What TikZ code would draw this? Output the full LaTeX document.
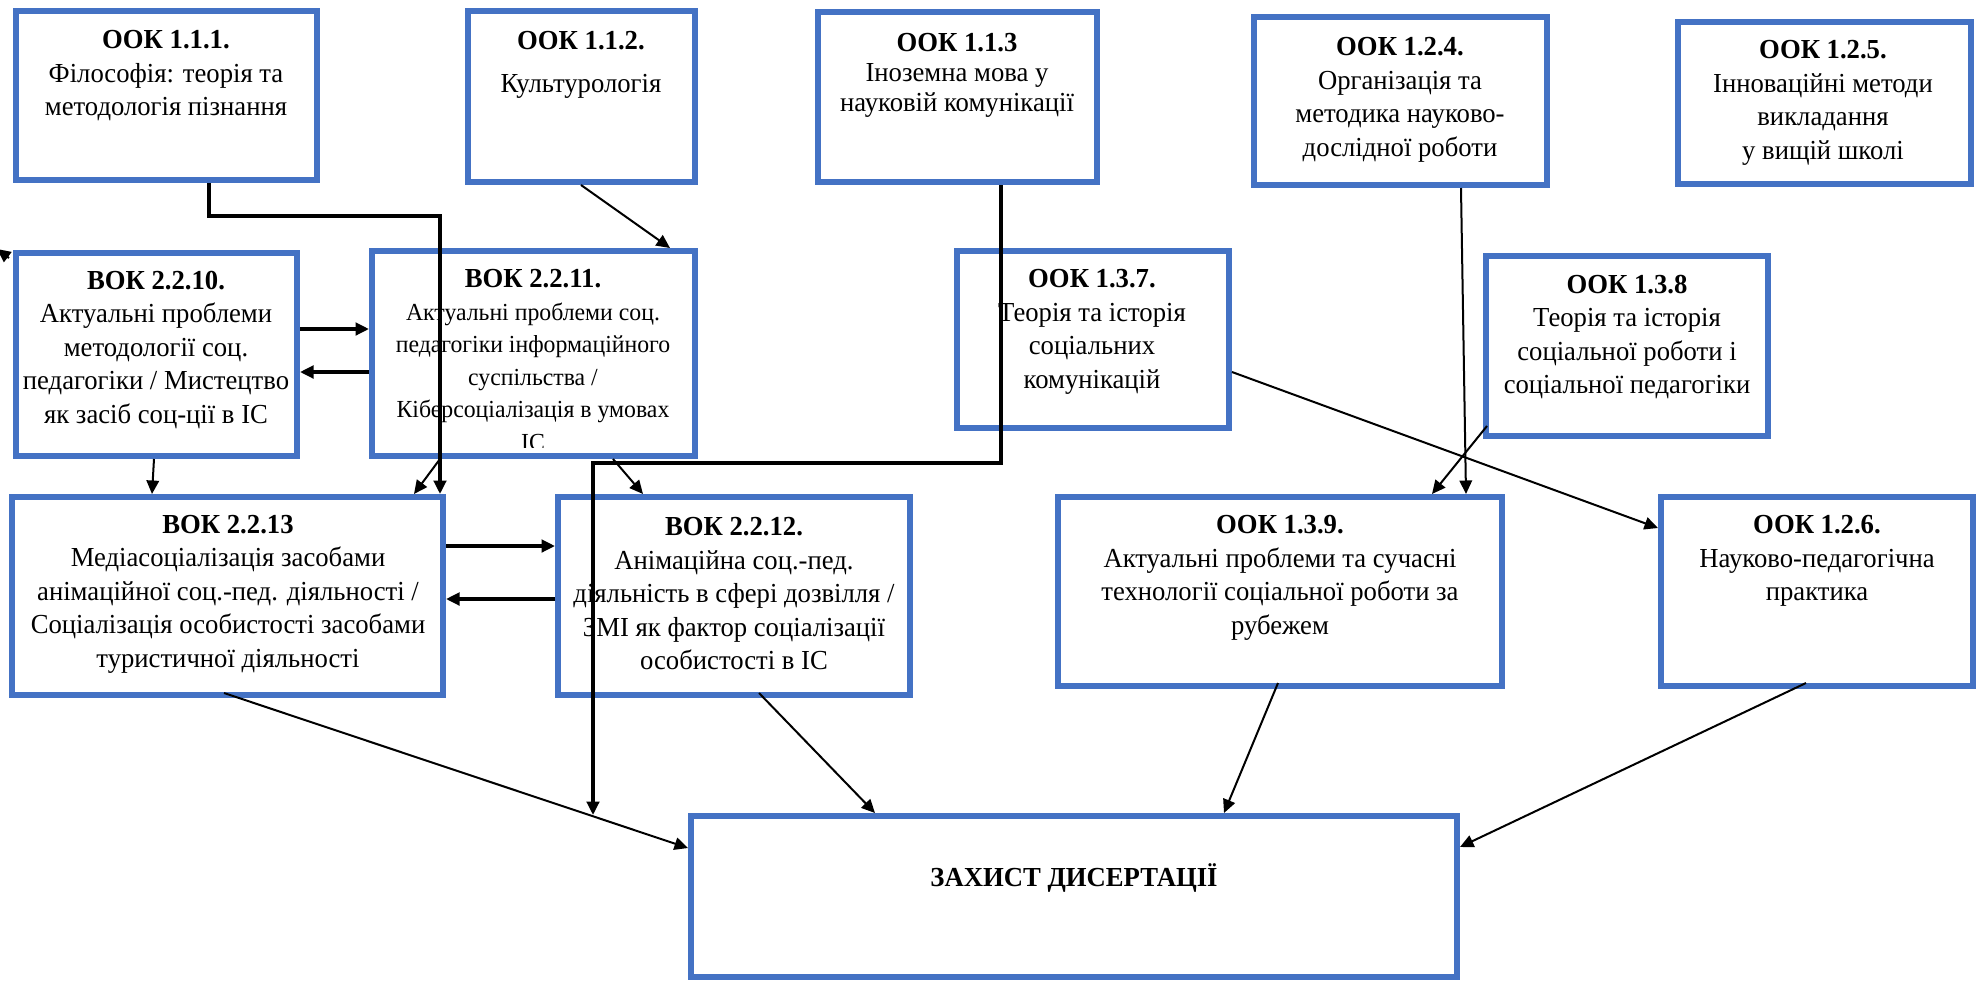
\documentclass[tikz,border=0pt]{standalone}
\usepackage{fontspec}
\setmainfont{Liberation Serif}[FakeStretch=0.97]
\usetikzlibrary{arrows.meta,calc}
\definecolor{boxblue}{HTML}{4472C4}
\newcommand\mkbox[5]{\node[box, minimum width={(#4-#2-6)*0.4pt}, minimum height={(#5-#3-6)*0.4pt}] (#1) at ({(#2+#4)/2},{(#3+#5)/2}) {};}
\tikzset{
  box/.style={draw=boxblue, line width=2.4pt, inner sep=0pt, rectangle},
  lbl/.style={align=center, inner sep=0pt, font=\fontsize{11}{13.4}\selectfont},
  lbltight/.style={align=center, inner sep=0pt, font=\fontsize{11}{12}\selectfont},
  lblsmall/.style={align=center, inner sep=0pt, font=\fontsize{9.8}{13}\selectfont},
  conn/.style={line width=0.8pt, -{Triangle[length=5.4pt,width=5pt]}},
  connb/.style={conn, line width=1.3pt},
}
\begin{document}
\begin{tikzpicture}[x=0.4pt, y=-0.4pt]
\useasboundingbox (0,0) rectangle (1982,981);
\clip (0,0) rectangle (1982,981);
% boxes
\mkbox{b111}{13}{8}{320}{183}
\mkbox{b112}{465}{8}{698}{185}
\mkbox{b113}{815}{9}{1100}{185}
\mkbox{b124}{1251}{14}{1550}{188}
\mkbox{b125}{1675}{19}{1974}{187}
\mkbox{b2210}{13}{250}{300}{459}
\mkbox{b2211}{369}{248}{698}{459}
\mkbox{b137}{954}{248}{1232}{431}
\mkbox{b138}{1483}{253}{1771}{439}
\mkbox{b2213}{9}{494}{446}{698}
\mkbox{b2212}{555}{494}{913}{698}
\mkbox{b139}{1055}{494}{1505}{689}
\mkbox{b126}{1658}{494}{1976}{689}
\mkbox{bz}{688}{813}{1460}{980}
% texts
\node[lbl] (t111) at (166,76) {\textbf{ООК 1.1.1.}\\Філософія: теорія та\\методологія пізнання};
\node[lbl] (t112) at (581,65) {\textbf{ООК 1.1.2.}\\[3.6pt]Культурологія};
\node[lbltight] (t113) at (957,75) {\textbf{ООК 1.1.3}\\Іноземна мова у\\науковій комунікації};
\node[lbl] (t124) at (1400,100) {\textbf{ООК 1.2.4.}\\Організація та\\методика науково-\\дослідної роботи};
\node[lbl] (t125) at (1823,103) {\textbf{ООК 1.2.5.}\\Інноваційні методи\\викладання\\у вищій школі};
\node[lbl] (t2210) at (156,350) {\textbf{ВОК 2.2.10.}\\Актуальні проблеми\\методології соц.\\педагогіки / Мистецтво\\як засіб соц-ції в ІС};
\begin{scope}
\clip (372,251) rectangle (695,447);
\node[lblsmall] (t2211) at (533,360) {{\fontsize{11}{13}\selectfont\bfseries ВОК 2.2.11.}\\Актуальні проблеми соц.\\педагогіки інформаційного\\суспільства /\\Кіберсоціалізація в умовах\\ІС};
\end{scope}
\node[lbl] (t137) at (1092,332) {\textbf{ООК 1.3.7.}\\Теорія та історія\\соціальних\\комунікацій};
\node[lbl] (t138) at (1627,337) {\textbf{ООК 1.3.8}\\Теорія та історія\\соціальної роботи і\\соціальної педагогіки};
\node[lbl] (t2213) at (228,594) {\textbf{ВОК 2.2.13}\\Медіасоціалізація засобами\\анімаційної соц.-пед. діяльності /\\Соціалізація особистості засобами\\туристичної діяльності};
\node[lbl] (t2212) at (734,594) {\textbf{ВОК 2.2.12.}\\Анімаційна соц.-пед.\\діяльність в сфері дозвілля /\\ЗМІ як фактор соціалізації\\особистості в ІС};
\node[lbl] (t139) at (1280,578) {\textbf{ООК 1.3.9.}\\Актуальні проблеми та сучасні\\технології соціальної роботи за\\рубежем};
\node[lbl] (t126) at (1817,561) {\textbf{ООК 1.2.6.}\\Науково-педагогічна\\практика};
\node[lbl] (tz) at (1074,878) {\textbf{ЗАХИСТ ДИСЕРТАЦІЇ}};
% free ends
\coordinate (e113) at (593,815);
\coordinate (ecut) at (-3,249);
% connectors
\draw[connb] ($(b111.south west)+(196,0)$) -- ++(0,33) -| ($(b2213.north west)+(431,0)$);
\draw[conn] ($(b112.south west)+(116,0)$) -- ($(b2211.north west)+(301,0)$);
\draw[connb] ($(b113.south west)+(186,0)$) -- ++(0,278) -| (e113);
\draw[connb] ($(b2210.north east)+(0,79)$) -- ($(b2211.north west)+(0,81)$);
\draw[connb] ($(b2211.north west)+(0,124)$) -- ($(b2210.north east)+(0,122)$);
\draw[conn] ($(b2210.south west)+(141,0)$) -- ($(b2213.north west)+(143,0)$);
\draw[conn] ($(b2211.south west)+(71,0)$) -- ($(b2213.north west)+(405,0)$);
\draw[conn] ($(b2211.south west)+(244,0)$) -- ($(b2212.north west)+(88,0)$);
\draw[connb] ($(b2213.north east)+(0,52)$) -- ($(b2212.north west)+(0,52)$);
\draw[connb] ($(b2212.north west)+(0,105)$) -- ($(b2213.north east)+(0,105)$);
\draw[conn] ($(b124.south west)+(210,0)$) -- ($(b139.north west)+(411,0)$);
\draw[conn] ($(b138.south west)+(4,-13)$) -- ($(b139.north west)+(377,0)$);
\draw[conn] ($(b137.north east)+(0,124)$) -- ($(b126.north west)+(0,34)$);
\draw[conn] ($(b2213.south west)+(215,-5)$) -- ($(bz.north west)+(0,35)$);
\draw[conn] ($(b2212.south west)+(204,-5)$) -- ($(bz.north west)+(187,0)$);
\draw[conn] ($(b139.south west)+(223,-6)$) -- ($(bz.north west)+(536,0)$);
\draw[conn] ($(b126.south west)+(148,-6)$) -- ($(bz.north east)+(0,34)$);
\draw[conn] ($(b2210.north west)+(-4,8)$) -- (ecut);
\end{tikzpicture}
\end{document}
